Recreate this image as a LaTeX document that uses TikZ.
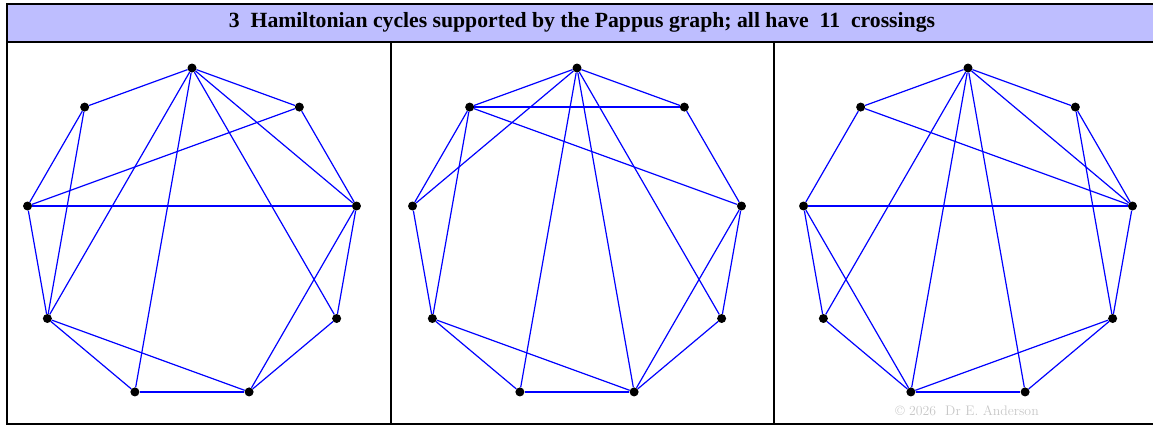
\documentclass[tikz,border=0pt]{standalone}
\usepackage{fontspec}
\newfontfamily\titlefont{Liberation Serif}
\usetikzlibrary{positioning}
\definecolor{titlefill}{RGB}{190,190,255}

\begin{document}
\begin{tikzpicture}[x=1pt, y=-1pt,
    vertex/.style={circle, fill=black, inner sep=0pt, minimum size=9pt},
    edge/.style={draw=blue, line width=1.2pt},
    frame/.style={draw=black, line width=2pt},
    heading/.style={font=\titlefont\bfseries\fontsize{21.7}{24}\selectfont},
    credit/.style={font=\fontsize{13.8}{16}\selectfont, text=black!22}
  ]
    \useasboundingbox (0,0) rectangle (1153,426);

    % title bar and the three panels
    \draw[frame, fill=titlefill] (6.5,3.5) rectangle (1158,41.5);
    \draw[frame] (6.5,41.5) rectangle (1158,424);
    \draw[frame] (391,41.5) -- (391,424);
    \draw[frame] (774,41.5) -- (774,424);
    \node[heading] (title) at (582,22.5)
      {3\ \ Hamiltonian cycles supported by the Pappus graph; all have\ \ 11\ \ crossings};

    % nine vertices on a circle in each panel
    \foreach \p/\cx in {a/192, b/577, c/968}
      \foreach \k in {0,...,8}
        \node[vertex] (\p\k) at ({\cx+167*cos(90-40*\k)}, {235-167*sin(90-40*\k)}) {};

    \foreach \u/\v in {0/1, 0/8, 0/6, 0/5, 0/3, 0/2, 1/2, 1/7, 7/2,
                       8/7, 8/6, 7/6, 6/5, 6/4, 5/4, 4/2, 4/3, 3/2}
      \draw[edge] (a\u) -- (a\v);
    \foreach \u/\v in {0/1, 0/8, 0/7, 0/5, 0/4, 0/3, 8/1, 8/2, 8/7,
                       8/6, 1/2, 7/6, 6/5, 6/4, 5/4, 4/2, 4/3, 3/2}
      \draw[edge] (b\u) -- (b\v);
    \foreach \u/\v in {0/1, 0/8, 0/6, 0/5, 0/4, 0/2, 8/2, 8/7, 1/2,
                       1/3, 7/2, 7/6, 7/5, 6/5, 5/4, 5/3, 4/3, 3/2}
      \draw[edge] (c\u) -- (c\v);

    \node[credit] (note) at (967,410.5) {\textcopyright\ 2026\ \ Dr E.\ Anderson};
\end{tikzpicture}
\end{document}
